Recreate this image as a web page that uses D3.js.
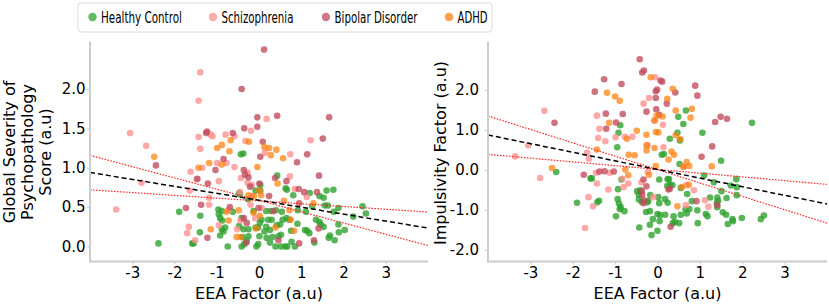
<!DOCTYPE html>
<html>
<head>
<meta charset="utf-8">
<script src="https://cdn.jsdelivr.net/npm/d3@7"></script>
<style>
  body { margin: 0; background: #fff; }
  text { font-family: "DejaVu Sans", sans-serif; fill: #000; }
</style>
</head>
<body>
<svg id="chart" width="829" height="305"></svg>
<script>
const groups = ["Healthy Control", "Schizophrenia", "Bipolar Disorder", "ADHD"];
const groupColors = ["#2ca02c", "#ff8f8f", "#c24a5c", "#ff7f0e"];
const xTicks = [-3, -2, -1, 0, 1, 2, 3];
const gsTicks = [0, 0.5, 1, 1.5, 2];
const impTicks = [-2, -1, 0, 1, 2];

// left panel: EEA factor vs global severity score
const gsHealthy = [[-0.43,1.17],[-0.37,1.18],[-1.89,0.44],[-1.39,0.39],[-1.40,0.18],[-2.38,0.04],[-1.58,0.04],[-1.55,0.04],[-0.96,0.47],[-0.88,0.45],[-0.95,0.41],[-0.92,0.36],[-0.87,0.33],[-0.88,0.22],[-0.80,0.24],[-0.92,0.14],[-0.84,0.19],[-0.62,0.44],[-0.41,0.36],[-0.47,0.26],[-0.37,0.22],[-0.25,0.22],[-0.39,0.12],[-0.25,0.13],[-0.29,0.07],[-0.41,0.00],[-0.35,0.03],[-0.74,0.00],[-0.13,0.45],[-0.08,0.24],[-0.08,0.71],[-0.02,0.03],[0.43,0.90],[0.63,0.74],[0.66,0.72],[0.03,0.78],[0.03,0.71],[1.76,0.72],[0.81,0.65],[1.20,0.68],[1.43,0.64],[1.53,0.62],[1.56,0.52],[1.63,0.52],[1.88,0.49],[1.77,0.44],[2.45,0.51],[2.53,0.42],[2.23,0.38],[1.26,0.51],[1.11,0.44],[0.92,0.46],[0.17,0.45],[0.28,0.45],[0.40,0.46],[0.54,0.44],[0.65,0.36],[0.72,0.34],[0.56,0.34],[0.22,0.34],[0.30,0.34],[0.06,0.34],[0.91,0.29],[1.35,0.34],[1.43,0.31],[1.46,0.28],[1.53,0.25],[1.88,0.28],[2.03,0.21],[1.89,0.18],[1.68,0.14],[1.65,0.11],[1.79,0.08],[1.31,0.05],[1.09,0.21],[1.14,0.20],[1.19,0.17],[0.76,0.20],[0.50,0.28],[0.42,0.27],[0.26,0.21],[0.17,0.25],[0.13,0.19],[0.02,0.30],[-0.02,0.24],[0.46,0.13],[0.52,0.15],[0.26,0.05],[0.39,0.00],[0.52,0.00],[0.62,0.00],[0.67,0.00],[0.77,0.06],[0.85,0.00],[-0.06,0.00],[0.01,0.13],[0.32,0.12],[0.18,0.11],[1.60,0.71],[-0.47,0.68],[-0.45,0.66],[-0.26,0.60]];
const gsSchizo = [[-1.39,2.21],[-1.43,1.85],[-3.05,1.44],[-2.67,1.28],[-3.38,0.47],[-1.43,1.39],[-1.14,1.42],[-1.10,1.40],[-0.79,1.42],[-0.58,1.40],[-0.32,1.34],[-0.19,1.47],[-1.39,1.24],[-1.34,1.00],[-0.99,1.06],[-0.77,1.06],[-2.78,0.81],[-1.62,0.95],[-0.58,1.01],[-0.27,0.94],[-1.47,0.85],[-0.95,0.83],[-0.27,0.81],[-0.17,0.78],[-1.64,0.71],[-1.18,0.62],[-1.18,0.53],[-1.66,0.25],[-1.70,0.17],[-1.51,0.08],[-0.72,0.46],[-0.44,0.33],[-0.52,0.22],[-0.20,0.53],[-0.09,0.36],[-0.45,0.69],[-0.17,0.64],[-0.43,0.87],[0.18,1.62],[1.22,1.35],[0.14,1.19],[0.74,1.17],[0.73,0.89],[0.85,0.73],[1.13,0.63],[0.06,0.49],[-0.95,0.27]];
const gsBipolar = [[-0.41,2.00],[-1.23,1.46],[-1.25,1.44],[-0.62,1.44],[-0.35,1.50],[-0.04,1.52],[-0.04,1.64],[-0.84,1.11],[-2.44,1.03],[-1.03,0.97],[-0.36,0.97],[-0.33,0.91],[-0.25,0.88],[-1.21,0.80],[-0.21,0.76],[-1.37,0.53],[-1.73,0.49],[-0.69,0.50],[-1.22,0.11],[-0.30,0.05],[-0.36,0.36],[-0.29,0.30],[-1.46,0.86],[0.12,2.50],[0.43,1.66],[1.66,1.64],[1.51,1.37],[0.09,1.33],[0.03,1.14],[1.14,1.17],[0.90,1.07],[0.01,0.80],[0.38,0.87],[0.65,0.83],[1.42,0.90],[0.94,0.73],[1.07,0.69],[1.37,0.69],[0.24,0.64],[-0.01,0.49],[0.34,0.45],[0.95,0.55],[1.41,0.23],[1.30,0.08],[0.95,0.04],[0.46,0.08]];
const gsAdhd = [[-0.24,1.33],[-0.99,1.25],[-0.88,1.29],[-0.70,1.21],[-0.67,1.35],[-2.48,1.14],[-1.43,1.00],[-1.18,1.06],[-0.88,1.04],[-0.04,1.01],[-1.14,0.22],[-0.72,0.33],[-0.77,0.44],[-0.48,0.46],[-0.53,0.12],[-0.43,0.12],[-0.25,0.65],[-0.13,0.43],[0.01,0.71],[0.13,1.26],[0.24,1.25],[0.41,1.23],[0.28,1.16],[0.57,1.12],[0.44,0.80],[0.05,0.65],[0.59,0.58],[1.29,0.55],[0.72,0.46],[0.02,0.39],[0.75,0.34],[0.83,0.20],[0.39,0.24],[-0.07,0.23],[-0.12,0.64]];

// right panel: EEA factor vs impulsivity factor
const impHealthy = [[-0.88,1.12],[-0.92,0.93],[-0.95,0.57],[-2.39,-0.05],[-1.90,-0.82],[-1.58,-0.21],[-1.55,-0.21],[-1.42,-0.81],[-1.38,-0.77],[-0.98,-1.16],[-0.94,-0.73],[-0.91,-0.84],[-0.87,-0.93],[-0.89,-0.98],[-0.78,-1.03],[-0.93,-0.48],[-0.85,-0.24],[-0.43,-1.44],[-0.48,-0.53],[-0.40,-0.51],[-0.44,-0.62],[-0.44,-0.74],[-0.37,-0.80],[-0.24,-0.81],[-0.17,-0.63],[-0.22,-0.77],[-0.27,-1.05],[-0.18,-1.03],[-0.11,-1.23],[0.00,-1.10],[-0.14,-1.63],[0.00,-1.52],[0.49,1.33],[0.67,1.49],[0.61,1.15],[0.47,0.93],[0.29,0.78],[1.06,0.93],[0.53,0.74],[2.23,1.18],[0.10,0.38],[0.15,0.40],[1.50,0.23],[0.52,0.15],[0.24,-0.23],[0.27,-0.23],[0.04,-0.24],[0.29,-0.37],[0.23,-0.40],[0.35,-0.38],[0.02,-0.68],[0.04,-0.83],[0.18,-0.73],[0.24,-0.82],[0.06,-1.13],[0.05,-1.28],[0.18,-1.12],[0.38,-1.16],[0.41,-1.30],[0.36,-1.33],[0.51,-1.33],[0.55,-1.12],[0.69,-1.09],[0.66,-0.99],[0.75,-0.98],[0.94,-1.01],[0.81,-0.78],[0.95,-1.33],[1.14,-1.10],[1.18,-1.16],[1.24,-0.69],[1.41,-0.69],[1.43,-0.77],[1.40,-0.83],[1.41,-0.93],[1.54,-1.06],[1.62,-1.12],[1.63,-0.70],[1.66,-1.35],[1.77,-1.23],[1.78,-1.28],[1.99,-1.20],[2.44,-1.23],[2.51,-1.14],[1.86,-0.23],[1.87,-0.43],[1.87,-0.63],[1.73,-0.39],[1.51,-0.53],[1.33,-0.31],[1.10,-0.14],[0.55,-0.45],[0.70,-0.60],[-0.18,-1.37]];
const impSchizo = [[-2.67,1.48],[-3.05,0.62],[-3.36,0.34],[-2.77,-0.20],[-1.71,-1.45],[-1.63,-0.68],[-1.52,-0.91],[-1.43,1.36],[-1.37,1.03],[-1.40,0.80],[-1.23,0.72],[-1.66,0.43],[-1.62,0.28],[-1.43,-0.34],[-1.16,-0.49],[-0.99,0.82],[-0.77,0.83],[-0.59,0.83],[-0.83,-0.22],[-0.69,-0.34],[-1.13,-0.07],[-1.45,-0.07],[-0.80,-0.43],[-0.38,-0.31],[-0.33,1.66],[-0.20,1.80],[-0.06,2.32],[-0.08,1.24],[-0.23,0.62],[-0.10,-0.68],[-0.23,-0.05],[0.13,1.13],[0.14,0.57],[0.68,-0.38],[0.86,-0.51],[1.12,-0.76],[0.67,-0.88],[1.20,-0.92],[0.62,0.08]];
const impBipolar = [[-0.42,2.77],[-0.36,2.44],[-0.32,2.49],[-1.26,2.27],[-1.48,1.96],[-0.85,2.15],[-0.04,1.97],[-0.01,2.01],[-0.26,1.46],[-2.43,1.18],[-1.22,1.41],[-1.21,1.03],[-0.98,1.19],[-0.82,1.40],[-0.03,1.52],[-1.74,-0.12],[-1.37,-0.04],[-1.25,-0.03],[-1.03,-0.04],[-0.33,-0.24],[-0.36,-0.62],[-0.32,-0.76],[-0.33,-0.83],[-0.37,-0.53],[-0.26,-0.41],[0.07,2.24],[0.11,2.21],[-0.04,1.80],[0.42,1.94],[0.89,2.11],[0.94,1.86],[0.04,1.38],[0.22,1.66],[1.49,1.33],[1.36,1.20],[1.64,1.28],[1.29,0.59],[1.04,0.33],[0.26,-0.49],[0.29,-0.47],[0.92,-0.78],[1.41,-0.88],[0.31,-1.42]];
const impAdhd = [[-0.16,2.32],[-1.19,1.93],[-1.00,1.84],[-0.89,1.73],[-1.14,1.18],[-0.72,0.78],[-0.49,0.98],[-0.26,0.88],[-0.06,1.24],[-0.02,1.36],[-0.26,0.62],[-0.26,0.49],[-0.68,0.38],[-0.54,0.37],[-1.43,0.51],[-2.49,0.05],[-0.76,0.01],[-0.69,-0.13],[-0.20,-0.12],[-0.07,0.55],[-0.04,0.10],[0.36,2.03],[0.23,1.78],[0.81,1.53],[0.43,1.49],[0.78,1.31],[0.12,1.34],[-0.04,0.95],[0.02,0.94],[0.43,0.87],[0.54,0.77],[0.33,0.46],[0.39,0.38],[0.26,0.26],[0.69,0.20],[0.61,0.08],[0.75,0.10],[1.28,0.09],[0.74,-0.37],[0.57,-0.43],[0.47,-0.91]];

// regression fit and confidence bounds, evaluated at the x limits
const fitX = [-4, 4];
const gsFit = [0.94, 0.235];
const gsBoundA = [1.157, 0.013];
const gsBoundB = [0.72, 0.438];
const impFit = [0.875, -0.85];
const impBoundA = [1.35, -1.33];
const impBoundB = [0.39, -0.36];

const svg = d3.select("#chart");
const plotTop = 41.7, plotBottom = 261.5;

function panel(opts) {
  const x = d3.scaleLinear().domain([-4, 4]).range([opts.left, opts.right]);
  const y = d3.scaleLinear().domain(opts.yDomain).range([plotBottom, plotTop]);
  const g = svg.append("g");

  const clipId = "clip" + opts.id;
  g.append("clipPath").attr("id", clipId)
    .append("rect")
    .attr("x", opts.left).attr("y", plotTop - 6)
    .attr("width", opts.right - opts.left).attr("height", plotBottom - plotTop + 6);

  const plot = g.append("g").attr("clip-path", `url(#${clipId})`);

  opts.series.forEach((pts, i) => {
    plot.append("g")
      .selectAll("circle")
      .data(pts)
      .join("circle")
      .attr("cx", d => x(d[0]))
      .attr("cy", d => y(d[1]))
      .attr("r", 3.3)
      .attr("fill", groupColors[i])
      .attr("fill-opacity", i == 3 ? 0.72 : 0.78);
  });

  const line = d3.line().x(d => x(d[0])).y(d => y(d[1]));
  const zipped = vals => fitX.map((v, i) => [v, vals[i]]);

  [opts.boundA, opts.boundB].forEach(b => {
    plot.append("path")
      .attr("d", line(zipped(b)))
      .attr("fill", "none")
      .attr("stroke", "#ff2a2a")
      .attr("stroke-width", 1.2)
      .attr("stroke-dasharray", "1.6,1.4");
  });
  plot.append("path")
    .attr("d", line(zipped(opts.fit)))
    .attr("fill", "none")
    .attr("stroke", "#000")
    .attr("stroke-width", 1.5)
    .attr("stroke-dasharray", "5,3");

  // axes
  const xAxis = d3.axisBottom(x).tickValues(xTicks).tickSize(3).tickPadding(3)
    .tickFormat(d => String(d));
  g.append("g")
    .attr("transform", `translate(0,${plotBottom})`)
    .call(xAxis)
    .call(a => a.select(".domain").remove())
    .call(a => a.selectAll("line").attr("stroke", "#c8c8c8"))
    .call(a => a.selectAll("text").attr("font-size", 15).attr("fill", "#000")
      .attr("font-family", "DejaVu Sans"));

  const yAxis = d3.axisLeft(y).tickValues(opts.yTicks).tickSize(3).tickPadding(opts.yPad)
    .tickFormat(d => d.toFixed(1));
  g.append("g")
    .attr("transform", `translate(${opts.left},0)`)
    .call(yAxis)
    .call(a => a.select(".domain").remove())
    .call(a => a.selectAll("line").attr("stroke", "#c8c8c8"))
    .call(a => a.selectAll("text").attr("font-size", 15).attr("fill", "#000")
      .attr("font-family", "DejaVu Sans"));

  // spines
  g.append("line").attr("x1", opts.left).attr("x2", opts.left)
    .attr("y1", plotTop).attr("y2", plotBottom + 1)
    .attr("stroke", "#cccccc").attr("stroke-width", 2);
  g.append("line").attr("x1", opts.left - 1).attr("x2", opts.right)
    .attr("y1", plotBottom).attr("y2", plotBottom)
    .attr("stroke", "#cccccc").attr("stroke-width", 2);

  g.append("text")
    .attr("x", (opts.left + opts.right) / 2).attr("y", 299)
    .attr("text-anchor", "middle").attr("font-size", 16)
    .text("EEA Factor (a.u)");

  const yl = g.append("text")
    .attr("transform", `translate(${opts.labelX},${opts.labelY}) rotate(-90)`)
    .attr("text-anchor", "middle").attr("font-size", 16);
  opts.yLabel.forEach((t, i) => {
    yl.append("tspan").attr("x", 0).attr("y", i * opts.lineGap).text(t);
  });
}

panel({
  id: "gs", left: 90, right: 428, yDomain: [-0.19, 2.6], yTicks: gsTicks, yPad: 1.5,
  series: [gsHealthy, gsSchizo, gsBipolar, gsAdhd],
  fit: gsFit, boundA: gsBoundA, boundB: gsBoundB,
  yLabel: ["Global Severity of", "Psychopathology", "Score (a.u)"],
  labelX: 15, labelY: 152, lineGap: 18
});

// white backing for the right axes, as in the source figure
svg.append("rect").attr("x", 429).attr("y", 36).attr("width", 400).attr("height", 230).attr("fill", "#fff");

panel({
  id: "imp", left: 488, right: 827, yDomain: [-2.29, 3.21], yTicks: impTicks, yPad: 6,
  series: [impHealthy, impSchizo, impBipolar, impAdhd],
  fit: impFit, boundA: impBoundA, boundB: impBoundB,
  yLabel: ["Impulsivity Factor (a.u)"],
  labelX: 446, labelY: 153, lineGap: 18
});

// legend (the source text is narrow, so squeeze each label horizontally)
const legendX = [92.5, 213, 326, 449];
const legendW = [81, 72, 83, 30];
const lg = svg.append("g");
lg.append("rect").attr("x", 78).attr("y", 3).attr("width", 414).attr("height", 29)
  .attr("rx", 3).attr("fill", "#fff").attr("stroke", "#dcdcdc").attr("stroke-width", 1);
groups.forEach((name, i) => {
  lg.append("circle").attr("cx", legendX[i]).attr("cy", 17).attr("r", 4.2)
    .attr("fill", groupColors[i]).attr("fill-opacity", 0.75);
  const t = lg.append("text").attr("font-size", 16.5).text(name);
  const sx = legendW[i] / t.node().getComputedTextLength();
  t.attr("transform", `translate(${legendX[i] + 8.5},22.5) scale(${sx},1)`);
});
</script>
</body>
</html>
